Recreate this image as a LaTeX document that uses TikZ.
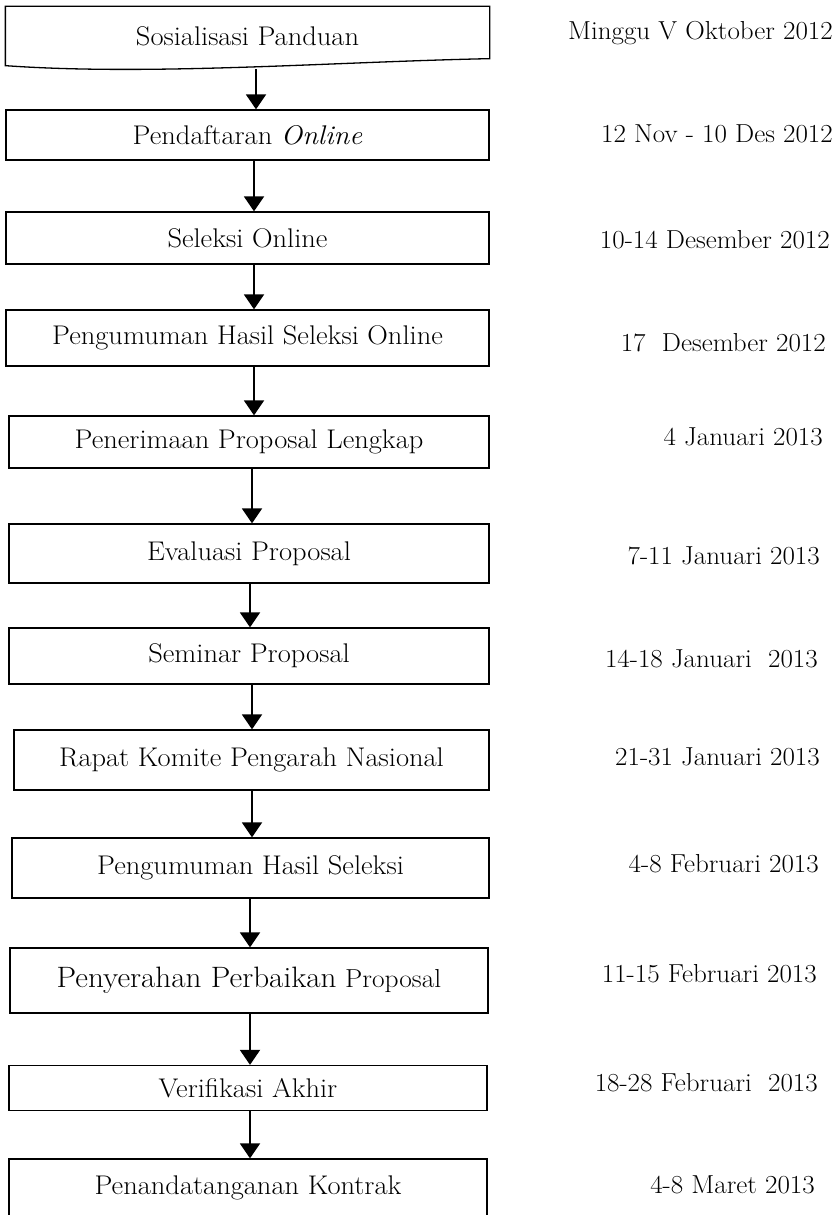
\documentclass[tikz,border=0pt]{standalone}
\usepackage{graphicx}
\usetikzlibrary{arrows.meta,calc}
\newcommand{\bxt}[1]{\scalebox{1.055}[1]{#1}}
\newcommand{\dtt}[1]{\scalebox{1.04}[1]{#1}}
\begin{document}
\begin{tikzpicture}[x=1pt,y=-1pt,
  boxline/.style={line width=1.3pt,draw=black},
  stepbox/.style={boxline,rectangle,inner sep=0pt,align=center,font=\fontsize{27}{31}\selectfont},
  datetext/.style={inner sep=0pt,anchor=east,font=\fontsize{26}{30}\selectfont},
  arr/.style={line width=2pt,-{Triangle[width=20pt,length=15pt]}}]
\useasboundingbox (0,0) rectangle (839,1215);
% box 1 (document shape)
\node[stepbox,draw=none,minimum width=483pt,minimum height=58pt] (b1) at (247.5,36) {\bxt{Sosialisasi Panduan}};
\draw[boxline] (b1.south west) -- (b1.north west) -- (b1.north east) -- ([yshift=7pt]b1.south east)
  .. controls (330,62) and (150,76) .. (b1.south west) -- cycle;
\coordinate (w1) at (256,69.5);
% boxes
\node[stepbox,minimum width=483pt,minimum height=50pt] (b2) at (247.5,135) {\bxt{Pendaftaran \emph{Online}}};
\node[stepbox,minimum width=483pt,minimum height=52pt] (b3) at (247.5,238) {\bxt{Seleksi Online}};
\node[stepbox,minimum width=483pt,minimum height=56pt] (b4) at (247.5,338) {\bxt{Pengumuman Hasil Seleksi Online}};
\node[stepbox,minimum width=480pt,minimum height=52pt] (b5) at (249,442) {\bxt{Penerimaan Proposal Lengkap}};
\node[stepbox,minimum width=480pt,minimum height=59pt] (b6) at (249,553.5) {\bxt{Evaluasi Proposal}};
\node[stepbox,minimum width=480pt,minimum height=56pt] (b7) at (249,656) {\bxt{Seminar Proposal}};
\node[stepbox,minimum width=475pt,minimum height=60pt] (b8) at (251.5,760) {\bxt{Rapat Komite Pengarah Nasional}};
\node[stepbox,minimum width=477pt,minimum height=60pt] (b9) at (250.5,868) {\bxt{Pengumuman Hasil Seleksi}};
\node[stepbox,minimum width=478pt,minimum height=65pt] (b10) at (249,980.5) {\bxt{{\fontsize{29.5}{33}\selectfont Penyerahan Perbaikan} {\fontsize{26}{30}\selectfont Proposal}}};
\node[stepbox,minimum width=478pt,minimum height=45pt] (b11) at (248,1088) {\bxt{Verifikasi Akhir}};
\node[stepbox,minimum width=478pt,minimum height=58pt] (b12) at (248,1188) {\bxt{Penandatanganan Kontrak}};
% arrows
\draw[arr] (w1) -- ([xshift=8.5pt]b2.north);
\draw[arr] ([xshift=6.5pt]b2.south) -- ([xshift=6.5pt]b3.north);
\draw[arr] ([xshift=6.5pt]b3.south) -- ([xshift=6.5pt]b4.north);
\draw[arr] ([xshift=6.5pt]b4.south) -- ([xshift=5pt]b5.north);
\draw[arr] ([xshift=3pt]b5.south) -- ([xshift=3pt]b6.north);
\draw[arr] ([xshift=1pt]b6.south) -- ([xshift=1pt]b7.north);
\draw[arr] ([xshift=3pt]b7.south) -- ([xshift=0.5pt]b8.north);
\draw[arr] ([xshift=0.5pt]b8.south) -- ([xshift=1.5pt]b9.north);
\draw[arr] ([xshift=-0.5pt]b9.south) -- ([xshift=1pt]b10.north);
\draw[arr] ([xshift=1pt]b10.south) -- ([xshift=2pt]b11.north);
\draw[arr] ([xshift=2pt]b11.south) -- ([xshift=2pt]b12.north);
% dates
\node[datetext] (d1) at (833,33) {\dtt{Minggu V Oktober 2012}};
\node[datetext] (d2) at (833,134) {\dtt{12 Nov - 10 Des 2012}};
\node[datetext] (d3) at (830,240) {\dtt{10-14 Desember 2012}};
\node[datetext] (d4) at (826,343) {\dtt{17\ \ Desember 2012}};
\node[datetext] (d5) at (823,437) {\dtt{4 Januari 2013}};
\node[datetext] (d6) at (820,556) {\dtt{7-11 Januari 2013}};
\node[datetext] (d7) at (818,659) {\dtt{14-18 Januari\ \ 2013}};
\node[datetext] (d8) at (820,757) {\dtt{21-31 Januari 2013}};
\node[datetext] (d9) at (819,864) {\dtt{4-8 Februari 2013}};
\node[datetext] (d10) at (817,974) {\dtt{11-15 Februari 2013}};
\node[datetext] (d11) at (818,1083) {\dtt{18-28 Februari\ \ 2013}};
\node[datetext] (d12) at (815,1185) {\dtt{4-8 Maret 2013}};
\end{tikzpicture}
\end{document}
